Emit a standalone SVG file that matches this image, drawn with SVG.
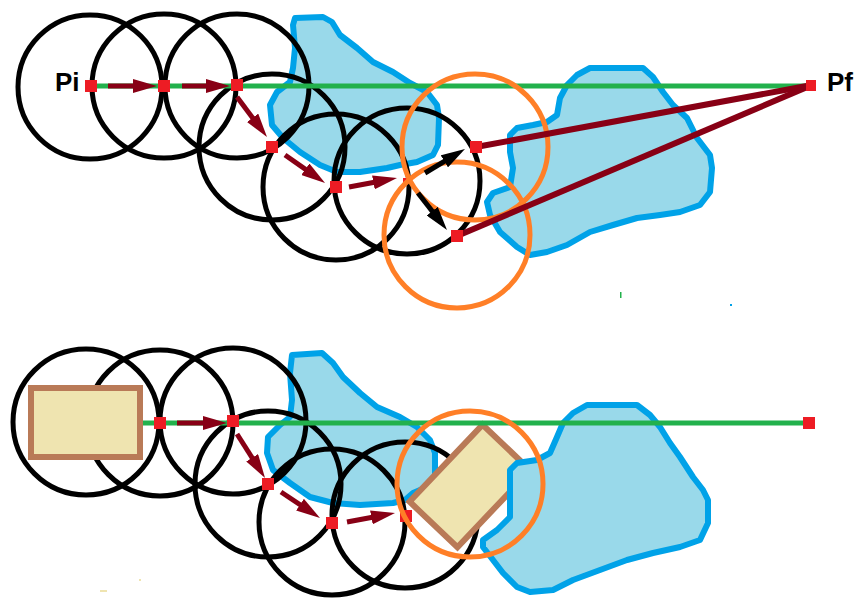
<svg xmlns="http://www.w3.org/2000/svg" width="857" height="600" viewBox="0 0 857 600">
<style>
.blob{fill:#99d9ea;stroke:#00a2e8;stroke-width:6;stroke-linejoin:round}
.circ{fill:none;stroke:#000;stroke-width:5}
.orange{fill:none;stroke:#ff7f27;stroke-width:5}
.green{stroke:#22b14c;stroke-width:5}
.arrow{stroke:#880015;stroke-width:5;marker-end:url(#ah)}
.barrow{stroke:#000;stroke-width:5;marker-end:url(#bh)}
.pline{stroke:#880015;stroke-width:6}
.node{fill:#ed1c24}
.box{fill:#efe4b0;stroke:#b97a57;stroke-width:6}
.lbl{font-family:"Liberation Sans",Arial,sans-serif;font-weight:bold;font-size:26px;fill:#000}
</style>
<defs>
<marker id="ah" markerUnits="userSpaceOnUse" markerWidth="24" markerHeight="14" refX="12" refY="7" orient="auto"><path d="M0,0 L24,7 L0,14 z" fill="#880015"/></marker>
<marker id="bh" markerUnits="userSpaceOnUse" markerWidth="24" markerHeight="14" refX="12" refY="7" orient="auto"><path d="M0,0 L24,7 L0,14 z" fill="#000"/></marker>
</defs>
<rect width="857" height="600" fill="#fff"/>

<!-- TOP SCENE -->
<g id="top-obstacles">
<polygon class="blob" points="295,18 323,17 332,22 340,35 357,48 373,62 393,72 410,83 427,92 437,105 439,118 438,145 433,155 417,162 400,165 387,168 360,172 337,172 320,165 300,152 283,138 272,125 270,105 277,92 290,82 293,68 295,48 293,25"/>
<polygon class="blob" points="590,68 643,68 653,77 663,92 673,105 687,118 697,138 710,155 712,168 710,192 700,205 680,212 660,215 637,218 613,225 590,232 567,245 547,252 530,255 517,247 500,232 490,215 487,202 493,193 510,187 513,168 510,152 510,135 517,128 533,125 547,122 557,115 560,98 567,85 577,75"/>
</g>
<g id="top-circles">
<circle class="circ" cx="90" cy="87" r="72"/>
<circle class="circ" cx="164" cy="86" r="72"/>
<circle class="circ" cx="237" cy="86" r="72"/>
<circle class="circ" cx="272" cy="147" r="73"/>
<circle class="circ" cx="336" cy="187" r="73"/>
<circle class="circ" cx="407" cy="181" r="73"/>
</g>
<g id="top-connectors">
<line class="green" x1="91" y1="86" x2="812" y2="86"/>
<rect class="node" x="403" y="178" width="5" height="5"/>
<line class="arrow" x1="108" y1="86" x2="145" y2="86"/>
<line class="arrow" x1="182" y1="86" x2="218" y2="86"/>
<line class="arrow" x1="237" y1="97" x2="259.8" y2="127.4"/>
<line class="arrow" x1="285" y1="155" x2="315.2" y2="176.1"/>
<line class="arrow" x1="349" y1="187" x2="385.2" y2="180.2"/>
</g>
<g id="top-orange">
<circle class="orange" cx="475" cy="147" r="73"/>
<circle class="orange" cx="457" cy="235" r="73"/>
</g>
<g id="top-branches">
<line class="barrow" x1="425" y1="173" x2="454.7" y2="155.2"/>
<line class="barrow" x1="418" y1="193" x2="439.6" y2="220.6"/>
<line class="pline" x1="476" y1="147" x2="812" y2="85"/>
<line class="pline" x1="457" y1="236" x2="812" y2="85"/>
</g>
<g id="top-nodes">
<rect class="node" x="85" y="80" width="12" height="12"/>
<rect class="node" x="158" y="80" width="12" height="12"/>
<rect class="node" x="231" y="79" width="12" height="12"/>
<rect class="node" x="266" y="141" width="12" height="12"/>
<rect class="node" x="330" y="181" width="12" height="12"/>
<rect class="node" x="470" y="141" width="12" height="12"/>
<rect class="node" x="451" y="230" width="12" height="12"/>
<rect class="node" x="806" y="80" width="10" height="11"/>
</g>
<g id="label-pi"><text class="lbl" x="55" y="91">Pi</text></g>
<g id="label-pf"><text class="lbl" x="827" y="91">Pf</text></g>
<rect x="620" y="292" width="1.5" height="6" fill="#22b14c"/>
<rect x="730" y="304" width="2" height="2" fill="#00a2e8"/>

<!-- BOTTOM SCENE -->
<g id="bottom-obstacle-left">
<polygon class="blob" points="292,355 322,353 333,363 343,377 360,393 377,407 400,417 417,427 430,440 435,453 435,477 427,487 413,493 405,500 393,503 360,505 333,503 310,497 290,483 273,470 267,453 268,437 280,425 290,417 292,400 290,373"/>
</g>
<g id="bottom-circles">
<circle class="circ" cx="86" cy="422" r="73"/>
<circle class="circ" cx="160" cy="423" r="73"/>
<circle class="circ" cx="233" cy="421" r="73"/>
<circle class="circ" cx="268" cy="484" r="73"/>
<circle class="circ" cx="332" cy="522" r="73"/>
<circle class="circ" cx="405" cy="515" r="73"/>
</g>
<g id="bottom-robot-end">
<rect class="box" x="-53" y="-33" width="106" height="66" transform="translate(470,486) rotate(-46.5)"/>
</g>
<g id="bottom-obstacle-right">
<polygon class="blob" points="587,405 637,405 650,415 660,427 670,443 680,457 693,477 703,490 708,500 708,523 700,540 680,547 653,553 627,560 600,570 573,580 553,590 530,592 517,587 503,573 493,560 483,547 483,540 497,530 510,517 510,500 510,470 517,463 537,460 550,453 557,437 563,423 573,413"/>
</g>
<g id="bottom-connectors">
<line class="green" x1="143" y1="423" x2="809" y2="423"/>
<line class="arrow" x1="177" y1="423" x2="215" y2="423"/>
<line class="arrow" x1="237" y1="434" x2="258.6" y2="467.9"/>
<line class="arrow" x1="281" y1="492" x2="310" y2="511.3"/>
<line class="arrow" x1="347" y1="522" x2="383.2" y2="515.2"/>
</g>
<g id="bottom-nodes">
<rect class="node" x="154" y="417" width="12" height="12"/>
<rect class="node" x="227" y="415" width="12" height="12"/>
<rect class="node" x="262" y="478" width="12" height="12"/>
<rect class="node" x="326" y="517" width="12" height="12"/>
<rect class="node" x="400" y="510" width="12" height="12"/>
<rect class="node" x="803" y="417" width="12" height="12"/>
</g>
<g id="bottom-orange">
<circle class="orange" cx="470" cy="484" r="73"/>
</g>
<g id="bottom-robot-start">
<rect class="box" x="31" y="388" width="109" height="69"/>
</g>
<rect x="100" y="590" width="7" height="2" fill="#efe4b0"/>
<rect x="139" y="579" width="2" height="2" fill="#efe4b0"/>
</svg>
